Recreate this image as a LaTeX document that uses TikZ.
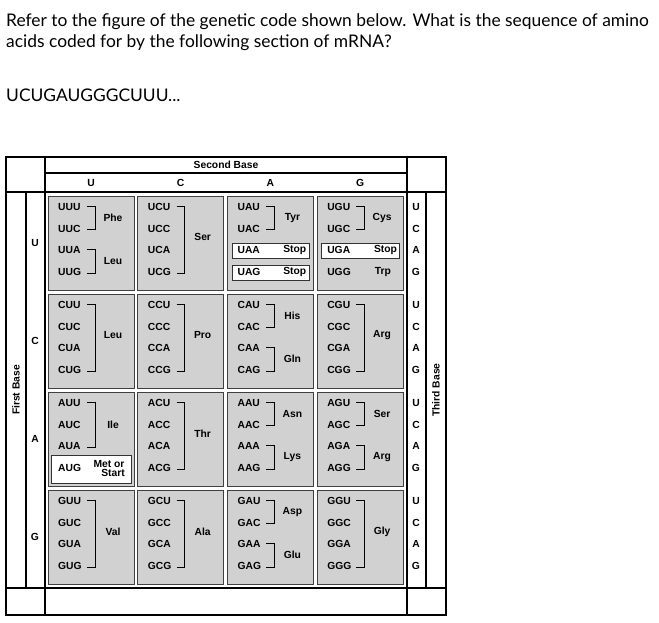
\documentclass[tikz,border=0pt]{standalone}
\usepackage{fontspec}
\setmainfont{Lato}
\newfontfamily\tabf{Liberation Sans}[BoldFont={Liberation Sans Bold}]
\begin{document}
\begin{tikzpicture}[x=1pt,y=-1pt,
  cod/.style={anchor=west,inner sep=0pt,font=\tabf\bfseries\fontsize{10.3}{11}\selectfont},
  lab/.style={inner sep=0pt,font=\tabf\bfseries\fontsize{10.3}{11}\selectfont,align=center},
  title/.style={anchor=west,inner sep=0pt,font=\fontsize{17.4}{20}\selectfont},
  gbox/.style={draw=black!75,line width=0.8pt,fill=black!18},
  wbox/.style={draw=black!80,line width=0.9pt,fill=white},
  grid/.style={line width=1.1pt}]
\useasboundingbox (0,0) rectangle (659,622);
\node[title] (t1) at (6,22) {Refer to the figure of the genetic code shown below. What is the sequence of amino};
\node[title] (t2) at (6,43) {acids coded for by the following section of mRNA?};
\node[title] (t3) at (6,95) {UCUGAUGGGCUUU...};
% grid
\draw[grid] (6,157) rectangle (446,615);
\draw[grid] (45,157) -- (45,615);
\draw[grid] (407,157) -- (407,615);
\draw[grid] (26,192) -- (26,588);
\draw[grid] (426,192) -- (426,588);
\draw[grid] (45,173) -- (407,173);
\draw[grid] (6,192) -- (446,192);
\draw[grid] (6,588) -- (446,588);
\node[lab] (sb) at (226,165) {Second Base};
\foreach \c/\l in {0/U,1/C,2/A,3/G}{
  \node[lab] (ch\l) at ({91+89.7*\c},183) {\l};
  \node[lab] (rh\l) at (35,{243+98*\c}) {\l};
  \foreach \i/\m in {0/U,1/C,2/A,3/G}
    \node[lab] (th\l\m) at (416,{207+98*\c+21.7*\i}) {\m};
  \foreach \r in {0,1,2,3}
    \draw[gbox] ({48+89.7*\c},{196+98*\r}) rectangle ({134+89.7*\c},{290+98*\r});
}
\node[lab,rotate=90] (fb) at (16,390) {First Base};
\node[lab,rotate=90] (tb) at (436,390) {Third Base};
% white boxes
\draw[wbox] (232,243) rectangle (309,258);
\draw[wbox] (232,265) rectangle (309,280);
\draw[wbox] (321,243) rectangle (399,258);
\draw[wbox] (51,455) rectangle (131,483);
% codons
\foreach \f/\r in {U/0,C/1,A/2,G/3}{
  \foreach \s/\c in {U/0,C/1,A/2,G/3}{
    \foreach \t/\i in {U/0,C/1,A/2,G/3}
      \node[cod] (c\f\s\t) at ({58+89.7*\c},{207+98*\r+21.7*\i}) {\f\s\t};
  }
}
\newcommand\brk[6]{%
  \draw[line width=0.8pt] ({48+89.7*#1+39},{207+98*#2+21.7*#3-1}) -- ({48+89.7*#1+47},{207+98*#2+21.7*#3-1})
    -- ({48+89.7*#1+47},{207+98*#2+21.7*#4+1}) -- ({48+89.7*#1+39},{207+98*#2+21.7*#4+1});
  \node[lab] at ({48+89.7*#1+65},{207+98*#2+21.7*#6}) {#5};}
\newcommand\solo[5]{\node[lab,anchor=east] at ({48+89.7*#1+#5},{207+98*#2+21.7*#3}) {#4};}
% row U
\brk{0}{0}{0}{1}{Phe}{0.5}\brk{0}{0}{2}{3}{Leu}{2.5}
\brk{1}{0}{0}{3}{Ser}{1.4}
\brk{2}{0}{0}{1}{Tyr}{0.5}\solo{2}{0}{2}{Stop}{79}\solo{2}{0}{3}{Stop}{79}
\brk{3}{0}{0}{1}{Cys}{0.5}\solo{3}{0}{2}{Stop}{80}\solo{3}{0}{3}{Trp}{74}
% row C
\brk{0}{1}{0}{3}{Leu}{1.4}\brk{1}{1}{0}{3}{Pro}{1.4}
\brk{2}{1}{0}{1}{His}{0.5}\brk{2}{1}{2}{3}{Gln}{2.5}
\brk{3}{1}{0}{3}{Arg}{1.4}
% row A
\brk{0}{2}{0}{2}{Ile}{1}
\node[lab] at (109,{207+98*2+21.7*3}) {Met or\\[-2pt]\hspace*{8pt}Start};
\brk{1}{2}{0}{3}{Thr}{1.4}
\brk{2}{2}{0}{1}{Asn}{0.5}\brk{2}{2}{2}{3}{Lys}{2.5}
\brk{3}{2}{0}{1}{Ser}{0.5}\brk{3}{2}{2}{3}{Arg}{2.5}
% row G
\brk{0}{3}{0}{3}{Val}{1.4}\brk{1}{3}{0}{3}{Ala}{1.4}
\brk{2}{3}{0}{1}{Asp}{0.5}\brk{2}{3}{2}{3}{Glu}{2.5}
\brk{3}{3}{0}{3}{Gly}{1.4}
\end{tikzpicture}
\end{document}
